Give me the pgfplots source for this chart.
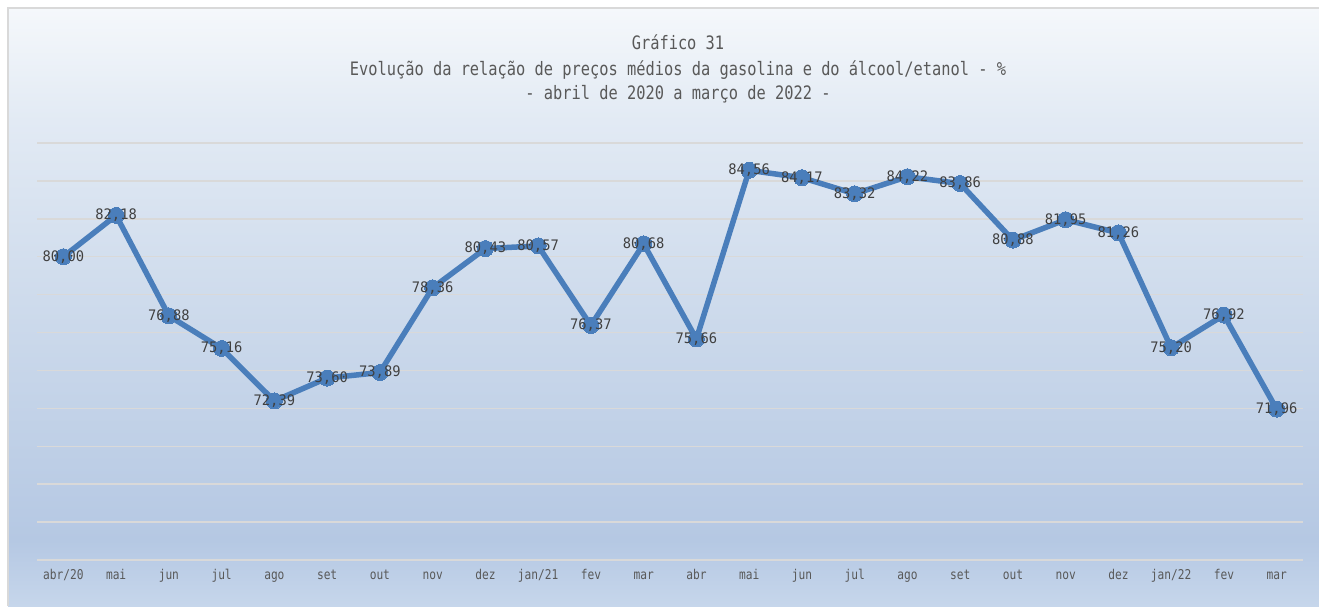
\documentclass[border=0pt]{standalone}
\usepackage{pgfplots}
\pgfplotsset{compat=1.18}
\usepackage{fontspec}
\setmainfont{DejaVu Sans Mono}[FakeStretch=0.83]
\newfontfamily\lblfont{DejaVu Sans Mono}[FakeStretch=0.95]
\definecolor{linec}{RGB}{74,126,187}
\definecolor{gridc}{RGB}{217,217,217}
\definecolor{framec}{RGB}{217,217,217}
\definecolor{tickc}{RGB}{89,89,89}
\definecolor{titlec}{RGB}{89,89,89}
\definecolor{lblc}{RGB}{64,64,64}
\definecolor{cb}{RGB}{198,214,235}
\definecolor{cm1}{RGB}{181,200,227}
\definecolor{cm2}{RGB}{206,219,236}
\definecolor{cm3}{RGB}{226,234,244}
\definecolor{ct}{RGB}{245,248,251}
\pgfdeclareverticalshading{bgshade}{100bp}{color(0bp)=(cb); color(25bp)=(cb); color(30.5bp)=(cm1); color(50.6bp)=(cm2); color(65.6bp)=(cm3); color(75bp)=(ct); color(100bp)=(ct)}
\pgfplotstableread{
x y
0 80.00
1 82.18
2 76.88
3 75.16
4 72.39
5 73.60
6 73.89
7 78.36
8 80.43
9 80.57
10 76.37
11 80.68
12 75.66
13 84.56
14 84.17
15 83.32
16 84.22
17 83.86
18 80.88
19 81.95
20 81.26
21 75.20
22 76.92
23 71.96
}\datatab
\begin{document}
\begin{tikzpicture}
\useasboundingbox (0pt,0pt) rectangle (1319pt,606pt);
\fill[white] (0pt,0pt) rectangle (1319pt,606pt);
\shade[shading=bgshade] (8pt,0pt) rectangle (1319pt,598pt);
\draw[framec, line width=2pt] (8pt,0pt) -- (8pt,598pt) -- (1319pt,598pt);
\node[font=\fontsize{18.5}{22}\selectfont, text=titlec] at (678pt,564pt) {Gráfico 31};
\node[font=\fontsize{18.5}{22}\selectfont, text=titlec] at (678pt,536pt) {Evolução da relação de preços médios da gasolina e do álcool/etanol - \%};
\node[font=\fontsize{18.5}{22}\selectfont, text=titlec] at (678pt,512pt) {- abril de 2020 a março de 2022 -};
\begin{axis}[
  at={(37pt,46pt)}, anchor=south west,
  scale only axis, width=1266pt, height=417pt,
  xmin=-0.5, xmax=23.5, ymin=64, ymax=86,
  axis line style={draw=none}, major tick length=0pt,
  ytick={64,66,...,86}, yticklabels={},
  ymajorgrids, major grid style={draw=gridc, line width=1.5pt},
  xtick={0,...,23},
  xticklabels={abr/20,mai,jun,jul,ago,set,out,nov,dez,jan/21,fev,mar,abr,mai,jun,jul,ago,set,out,nov,dez,jan/22,fev,mar},
  xticklabel style={font=\fontsize{13.5}{15}\selectfont, text=tickc, anchor=north, text height=9.5pt, text depth=3pt, inner sep=0pt, yshift=-10pt},
  clip=false,
  nodes near coords,
  every node near coord/.append style={anchor=center, font=\lblfont\fontsize{14.5}{16}\selectfont, text=lblc},
  /pgf/number format/.cd, fixed, fixed zerofill, precision=2, use comma, assume math mode=true
]
\addplot[linec, line width=5.5pt, mark=*, mark size=8pt, mark options={fill=linec, draw=linec, line width=0pt}] table[x=x, y=y] {\datatab};
\end{axis}
\end{tikzpicture}
\end{document}
